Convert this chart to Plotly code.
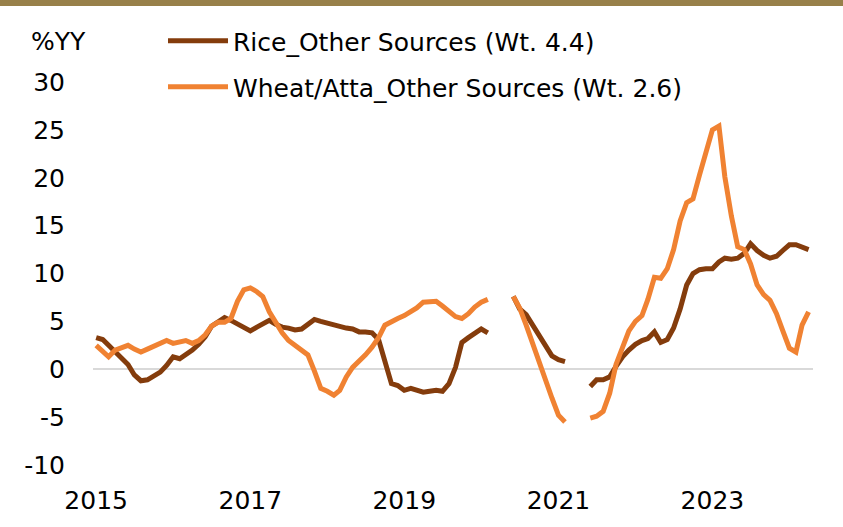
import pandas as pd
import plotly.graph_objects as go

N = None
months = pd.date_range("2015-01-01", periods=112, freq="MS")

rice_name = "Rice_Other Sources (Wt. 4.4)"
wheat_name = "Wheat/Atta_Other Sources (Wt. 2.6)"

rice = [3.3, 3.1, 2.5, 1.8, 1.1, 0.5, -0.6, -1.2, -1.1, -0.7, -0.3, 0.4,
        1.3, 1.1, 1.5, 2.0, 2.6, 3.4, 4.5, 5.0, 5.4, 5.1, 4.7, 4.4,
        4.0, 4.4, 4.8, 5.1, 4.7, 4.4, 4.3, 4.1, 4.2, 4.7, 5.2, 5.0,
        4.8, 4.6, 4.4, 4.3, 4.2, 3.9, 3.9, 3.8, 3.1, 1.0, -1.5, -1.7,
        -2.2, -2.0, -2.2, -2.4, -2.3, -2.2, -2.3, -1.5, 0.2, 2.8, 3.3, 3.8,
        4.2, 3.8, N, N, N, 7.6, 6.3, 5.7, 4.6, 3.5, 2.3, 1.4,
        1.0, 0.8, N, N, N, -1.8, -1.1, -1.1, -0.8, 0.3, 1.3, 2.0,
        2.6, 3.0, 3.2, 3.9, 2.8, 3.1, 4.3, 6.3, 8.8, 10.0, 10.4, 10.5,
        10.5, 11.2, 11.6, 11.5, 11.6, 12.1, 13.1, 12.4, 11.9, 11.6, 11.8, 12.4,
        13.0, 13.0, 12.8, 12.5]

wheat = [2.5, 1.9, 1.3, 2.0, 2.3, 2.5, 2.1, 1.8, 2.1, 2.4, 2.7, 3.0,
         2.7, 2.8, 3.0, 2.7, 3.0, 3.6, 4.5, 4.9, 4.9, 5.3, 7.1, 8.3,
         8.5, 8.1, 7.6, 6.0, 4.8, 3.8, 3.0, 2.5, 2.0, 1.5, -0.2, -2.0,
         -2.3, -2.7, -2.2, -0.8, 0.2, 0.8, 1.5, 2.3, 3.3, 4.6, 5.0, 5.3,
         5.6, 6.0, 6.4, 7.0, 7.1, 7.1, 6.6, 6.0, 5.5, 5.3, 5.8, 6.5,
         7.0, 7.3, N, N, N, 7.6, 6.4, 4.6, 2.6, 0.7, -1.2, -3.0,
         -4.8, -5.5, N, N, N, -5.1, -4.9, -4.4, -2.5, 0.5, 2.3, 4.0,
         5.0, 5.6, 7.3, 9.6, 9.5, 10.5, 12.5, 15.5, 17.4, 17.8, 20.3, 22.8,
         25.0, 25.4, 20.1, 16.0, 12.8, 12.5, 11.0, 8.8, 7.8, 7.2, 5.8, 4.0,
         2.2, 1.8, 4.6, 6.0]

y_ticks = [-10, -5, 0, 5, 10, 15, 20, 25, 30]
y_ticktext = ["-10", "-5", "0", "5", "10", "15", "20", "25", "30"]
x_ticks = ["2015-01-01", "2017-01-01", "2019-01-01", "2021-01-01", "2023-01-01"]
x_ticktext = ["2015", "2017", "2019", "2021", "2023"]

FONT = "DejaVu Sans"
FS = 25
W, H = 843, 527
L, R, T, B = 93, 30, 82, 62
pw, ph = W - L - R, H - T - B

def px_to_paper_y(py):
    return (H - B - py) / ph

def px_to_paper_x(px):
    return (px - L) / pw

fig = go.Figure()
fig.add_trace(go.Scatter(x=months, y=rice, name=rice_name, mode="lines",
                         line=dict(color="#843C0C", width=5), legend="legend"))
fig.add_trace(go.Scatter(x=months, y=wheat, name=wheat_name, mode="lines",
                         line=dict(color="#F08232", width=5), legend="legend2"))

legend_common = dict(font=dict(family=FONT, size=FS, color="#000000"),
                     bgcolor="rgba(0,0,0,0)", xanchor="left", yanchor="middle",
                     itemwidth=60, borderwidth=0)
fig.update_layout(
    width=W, height=H,
    margin=dict(l=L, r=R, t=T, b=B),
    paper_bgcolor="white", plot_bgcolor="white",
    font=dict(family=FONT, size=FS, color="#000000"),
    showlegend=True,
    legend=dict(x=px_to_paper_x(163), y=px_to_paper_y(41), **legend_common),
    legend2=dict(x=px_to_paper_x(163), y=px_to_paper_y(87), **legend_common),
    xaxis=dict(type="date", range=["2014-12-17", "2024-04-22"],
               tickvals=x_ticks, ticktext=x_ticktext,
               showgrid=False, zeroline=False, showline=False,
               ticks="outside", ticklen=13, tickcolor="rgba(0,0,0,0)",
               tickfont=dict(family=FONT, size=FS)),
    yaxis=dict(range=[-10, 30], tickvals=y_ticks, ticktext=y_ticktext,
               showgrid=False, zeroline=True, zerolinecolor="#D9D9D9", zerolinewidth=1.5,
               showline=False, ticks="outside", ticklen=22, tickcolor="rgba(0,0,0,0)",
               tickfont=dict(family=FONT, size=FS)),
    annotations=[dict(text="%YY", xref="paper", yref="paper",
                      x=px_to_paper_x(29), y=px_to_paper_y(41),
                      xanchor="left", yanchor="middle", showarrow=False,
                      font=dict(family=FONT, size=FS, color="#000000"))],
    shapes=[dict(type="rect", xref="paper", yref="paper",
                 x0=px_to_paper_x(0), x1=px_to_paper_x(W),
                 y0=px_to_paper_y(6), y1=px_to_paper_y(0),
                 fillcolor="#98804A", line=dict(width=0), layer="above")],
)

fig.write_html("out.html", config={"displayModeBar": False},
               post_script="document.body.style.margin='0';document.body.style.padding='0';")
